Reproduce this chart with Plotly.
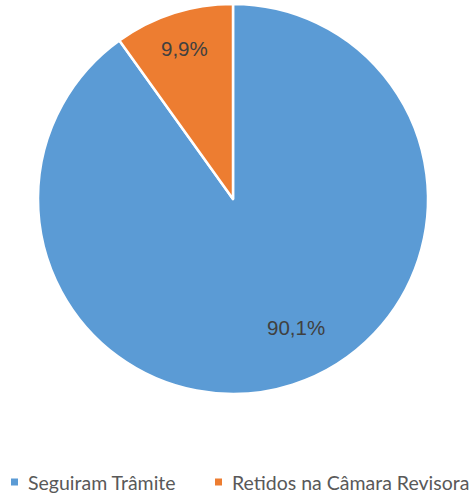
import math
import plotly.graph_objects as go

categories = ["Seguiram Trâmite", "Retidos na Câmara Revisora"]
values = [90.1, 9.9]
colors = ["#5B9BD5", "#ED7D31"]
value_labels = [f"{v:.1f}%".replace(".", ",") for v in values]

W, H = 469, 494
# pie placement (pixels)
CX, CY, R = 233, 199, 195
dom_x = [(CX - R) / W, (CX + R) / W]
dom_y = [1 - (CY + R) / H, 1 - (CY - R) / H]

# label placement: radius as fraction of R, angular nudge (degrees)
label_radius = [0.736, 0.81]
label_shift = [-8.2, 0.0]

fig = go.Figure(
    go.Pie(
        labels=categories,
        values=values,
        textinfo="none",
        marker=dict(colors=colors, line=dict(color="white", width=2.5)),
        sort=False,
        direction="clockwise",
        rotation=0,
        domain=dict(x=dom_x, y=dom_y),
        showlegend=False,
    )
)

# value labels, positioned from the slice angles
total = sum(values)
cum = 0.0
annotations = []
for i, v in enumerate(values):
    mid = (cum + v / 2) / total * 360 + label_shift[i]
    cum += v
    r = label_radius[i] * R
    px = CX + r * math.sin(math.radians(mid))
    py = CY - r * math.cos(math.radians(mid))
    annotations.append(dict(
        x=px / W, y=1 - py / H, xref="paper", yref="paper",
        text=value_labels[i], showarrow=False,
        xanchor="center", yanchor="middle",
        font=dict(family="Arial, 'Liberation Sans', sans-serif", size=20.5, color="#404040"),
    ))

# legend drawn as colored squares + text
legend_items = [(11, 26), (215, 230)]
shapes = []
LY = 482
for (sq_x, tx), name, col in zip(legend_items, categories, colors):
    shapes.append(dict(
        type="rect", xref="paper", yref="paper",
        x0=sq_x / W, x1=(sq_x + 7) / W,
        y0=1 - (LY + 3.5) / H, y1=1 - (LY - 3.5) / H,
        fillcolor=col, line=dict(width=0),
    ))
    annotations.append(dict(
        x=tx / W, y=1 - LY / H, xref="paper", yref="paper",
        text=name, showarrow=False, xanchor="left", yanchor="middle",
        font=dict(family="Lato", size=19.5, color="#595959"),
    ))

fig.update_layout(
    width=W,
    height=H,
    margin=dict(l=0, r=0, t=0, b=0),
    paper_bgcolor="white",
    plot_bgcolor="white",
    annotations=annotations,
    shapes=shapes,
)

fig.write_html("out.html")
